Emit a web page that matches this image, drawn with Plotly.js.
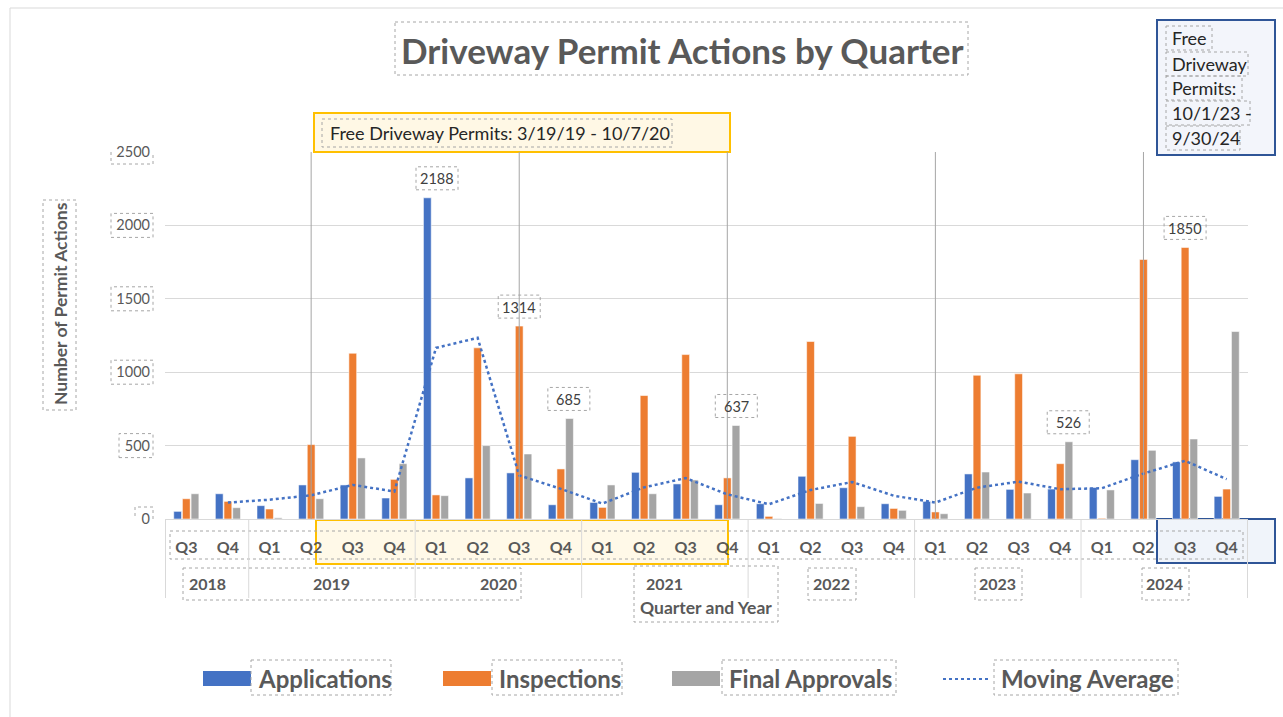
<!DOCTYPE html>
<html>
<head>
<meta charset="utf-8">
<script src="https://cdn.plot.ly/plotly-3.0.1.min.js"></script>
<style>
  html, body { margin: 0; padding: 0; background: #ffffff; }
  #chart { width: 1283px; height: 717px; }
</style>
</head>
<body>
<div id="chart"></div>
<script>
// ---------------- DATA ----------------
const years    = ['2018','2018','2019','2019','2019','2019','2020','2020','2020','2020','2021','2021','2021','2021','2022','2022','2022','2022','2023','2023','2023','2023','2024','2024','2024','2024'];
const quarters = ['Q3','Q4','Q1','Q2','Q3','Q4','Q1','Q2','Q3','Q4','Q1','Q2','Q3','Q4','Q1','Q2','Q3','Q4','Q1','Q2','Q3','Q4','Q1','Q2','Q3','Q4'];
const applications   = [52,172,91,232,232,143,2188,280,314,97,113,318,239,97,104,291,213,104,120,307,202,204,215,404,389,154];
const inspections    = [138,120,68,507,1129,270,164,1166,1314,341,79,841,1120,280,18,1209,563,72,48,979,989,377,5,1768,1850,204];
const finalApprovals = [172,77,8,138,416,377,159,500,443,685,232,172,266,637,3,106,84,59,36,320,177,526,198,468,545,1277];
const movingAverage  = [null,112,131.5,161.5,232,187.5,1165.5,1234,297,205.5,105,215.5,278.5,168,100.5,197.5,252,158.5,112,213.5,254.5,203,209.5,309.5,396.5,271.5];
const yTicks = [0,500,1000,1500,2000,2500];
const seriesNames = ['Applications','Inspections','Final Approvals','Moving Average'];
const titleText = 'Driveway Permit Actions by Quarter';
const yTitleText = 'Number of Permit Actions';
const xTitleText = 'Quarter and Year';
const note1Text = 'Free Driveway Permits: 3/19/19 - 10/7/20';
const note2Lines = ['Free','Driveway','Permits:','10/1/23 -','9/30/24'];
// labelled bars: series, category index
const labelledBars = [
  {s:'applications', i:6, dx:1},
  {s:'inspections', i:8, dx:0},
  {s:'finalApprovals', i:9, dx:8},
  {s:'finalApprovals', i:13, dx:9},
  {s:'finalApprovals', i:21, dx:8},
  {s:'inspections', i:24, dx:0}
];
const markerCategories = [3, 8, 13, 18, 23];

// ---------------- LAYOUT HELPERS ----------------
const W = 1283, H = 717;
const M = {l:165, r:35, t:152, b:198};
const PW = W - M.l - M.r, PH = H - M.t - M.b;
const fx = p => (p - M.l) / PW;
const fy = p => (M.t + PH - p) / PH;
const FONT = 'Lato, "Open Sans", sans-serif';
const GREY = '#595959';
const DOT = '#a6a6a6';

const cats = years.map((y, i) => y + ' ' + quarters[i]);
const seriesData = {applications, inspections, finalApprovals};

const colors = {app:'#4472c4', insp:'#ed7d31', fin:'#a5a5a5'};
const barLine = {color:'rgba(255,255,255,0.55)', width:1};

const traces = [
  {type:'bar', name:seriesNames[0], x:cats, y:applications, marker:{color:colors.app, line:barLine}, hoverinfo:'skip'},
  {type:'bar', name:seriesNames[1], x:cats, y:inspections, marker:{color:colors.insp, line:barLine}, hoverinfo:'skip'},
  {type:'bar', name:seriesNames[2], x:cats, y:finalApprovals, marker:{color:colors.fin, line:barLine}, hoverinfo:'skip'},
  {type:'scatter', mode:'lines', name:seriesNames[3], x:cats, y:movingAverage, connectgaps:false,
   line:{color:colors.app, width:2.5, dash:'dot'}, hoverinfo:'skip'}
];

const shapes = [];
const annotations = [];
function pbox(x0, y0, x1, y1, opts) {
  shapes.push(Object.assign({type:'rect', xref:'paper', yref:'paper',
    x0:fx(x0), x1:fx(x1), y0:fy(y0), y1:fy(y1),
    line:{color:DOT, width:1, dash:'dot'}, fillcolor:'rgba(0,0,0,0)', layer:'above'}, opts || {}));
}
function ptext(text, x, y, size, opts) {
  annotations.push(Object.assign({text:text, xref:'paper', yref:'paper', x:fx(x), y:fy(y),
    showarrow:false, xanchor:'left', yanchor:'middle',
    font:{family:FONT, size:size, color:'#262626'}}, opts || {}));
}

// chart border
pbox(10, 8, 1300, 730, {line:{color:'#d9d9d9', width:1}});

// title
ptext(titleText, 682, 50, 35, {xanchor:'center', font:{family:FONT, size:35, color:GREY, weight:'bold'}});
pbox(395, 22, 968, 75);

// top yellow note
pbox(314, 113, 730, 152, {line:{color:'#ffc000', width:2}, fillcolor:'#fff8e5', layer:'below'});
pbox(322, 119, 672, 147);
ptext(note1Text, 328, 133, 18);

// top right blue note
pbox(1157, 20, 1275, 155, {line:{color:'#2f5597', width:2}, fillcolor:'#f3f5fb', layer:'below'});
const n2y = [38, 64, 88, 113, 138];
const n2w = [46, 82, 76, 84, 74];
note2Lines.forEach((t, k) => {
  ptext(t, 1170, n2y[k], 18);
  pbox(1166, n2y[k] - 12, 1166 + n2w[k], n2y[k] + 12);
});

// bottom highlight boxes
pbox(316, 520, 728, 564, {line:{color:'#ffc000', width:2}, fillcolor:'rgba(255,242,204,0.45)', layer:'below'});
pbox(1157, 519, 1275, 563, {line:{color:'#2f5597', width:2}, fillcolor:'rgba(218,227,243,0.4)', layer:'below'});

// quarter row dotted box
pbox(170, 531, 1243, 559);

// year group labels and dividers
const yearGroups = [];
years.forEach((y, i) => {
  const g = yearGroups[yearGroups.length - 1];
  if (g && g.year === y) g.end = i; else yearGroups.push({year:y, start:i, end:i});
});
yearGroups.forEach(g => {
  annotations.push({text:'<b>' + g.year + '</b>', xref:'x', yref:'paper', x:(g.start + g.end) / 2, y:fy(583),
    showarrow:false, xanchor:'center', yanchor:'middle', font:{family:FONT, size:16, color:GREY}});
  shapes.push({type:'line', xref:'x', yref:'paper', x0:g.start - 0.5, x1:g.start - 0.5, y0:fy(519), y1:fy(598),
    line:{color:'#d9d9d9', width:1}});
});
shapes.push({type:'line', xref:'x', yref:'paper', x0:years.length - 0.5, x1:years.length - 0.5, y0:fy(519), y1:fy(598),
  line:{color:'#d9d9d9', width:1}});
pbox(183, 568, 521, 600);
pbox(634, 566, 778, 622);
pbox(808, 568, 856, 600);
pbox(975, 568, 1022, 600);
pbox(1142, 568, 1189, 600);

// axis titles
ptext('<b>' + xTitleText + '</b>', 706, 607, 17.5, {xanchor:'center', font:{family:FONT, size:17.5, color:GREY}});
ptext('<b>' + yTitleText + '</b>', 60, 304, 17.5, {xanchor:'center', textangle:-90, font:{family:FONT, size:17.5, color:GREY}});
pbox(43, 200, 76, 410);

// y tick label boxes
yTicks.forEach(v => {
  const len = String(v).length;
  shapes.push({type:'rect', xref:'paper', yref:'y', ysizemode:'pixel', yanchor:v, y0:-12, y1:12,
    x0:fx(153 - (len * 8 + 10)), x1:fx(153), line:{color:DOT, width:1, dash:'dot'}, layer:'above'});
});

// vertical marker lines
markerCategories.forEach(i => {
  shapes.push({type:'line', xref:'x', yref:'paper', x0:i, x1:i, y0:0, y1:1,
    line:{color:'#a6a6a6', width:1}, layer:'above'});
});

// data labels
labelledBars.forEach(b => {
  const v = seriesData[b.s][b.i];
  annotations.push({text:String(v), xref:'x', yref:'y', x:cats[b.i], y:v, xshift:b.dx, yshift:19,
    showarrow:false, xanchor:'center', yanchor:'middle', font:{family:FONT, size:14.5, color:'#404040'}});
  shapes.push({type:'rect', xref:'x', yref:'y', xsizemode:'pixel', ysizemode:'pixel',
    xanchor:b.i, yanchor:v, x0:b.dx - 21, x1:b.dx + 21, y0:8, y1:31,
    line:{color:DOT, width:1, dash:'dot'}, layer:'above'});
});

// custom legend
const legendItems = [
  {c:colors.app, sx:203, tx:256, bw:140},
  {c:colors.insp, sx:443, tx:497, bw:130},
  {c:colors.fin, sx:672, tx:727, bw:174},
  {c:null, sx:943, tx:999, bw:184}
];
legendItems.forEach((it, k) => {
  if (it.c) {
    pbox(it.sx, 671, it.sx + 48, 686, {line:{width:0}, fillcolor:it.c});
  } else {
    shapes.push({type:'line', xref:'paper', yref:'paper', x0:fx(it.sx), x1:fx(it.sx + 47), y0:fy(679), y1:fy(679),
      line:{color:colors.app, width:2, dash:'dot'}});
  }
  ptext('<b>' + seriesNames[k] + '</b>', it.tx, 678, 24, {font:{family:FONT, size:24, color:GREY}});
  pbox(it.tx - 5, 660, it.tx - 5 + it.bw, 695);
});

const layout = {
  width: W, height: H,
  margin: M,
  paper_bgcolor: '#ffffff', plot_bgcolor: '#ffffff',
  font: {family: FONT, color: GREY},
  showlegend: false,
  barmode: 'group', bargap: 0.375, bargroupgap: 0.1,
  xaxis: {type:'category', tickvals:cats, ticktext:quarters.map(q => '<b>' + q + '</b>'),
          tickfont:{family:FONT, size:16, color:GREY}, ticks:'', ticklabelstandoff:14,
          showgrid:false, showline:true, linecolor:'#d9d9d9', linewidth:1, zeroline:false,
          fixedrange:true},
  yaxis: {range:[0,2500], tickvals:yTicks, ticktext:yTicks.map(String), tickfont:{family:FONT, size:14.5, color:GREY},
          ticks:'', ticklabelstandoff:14, showgrid:true, gridcolor:'#d9d9d9', gridwidth:1, zeroline:false,
          showline:false, fixedrange:true},
  shapes: shapes,
  annotations: annotations
};

Plotly.newPlot('chart', traces, layout, {displayModeBar:false, staticPlot:true});
</script>
</body>
</html>
